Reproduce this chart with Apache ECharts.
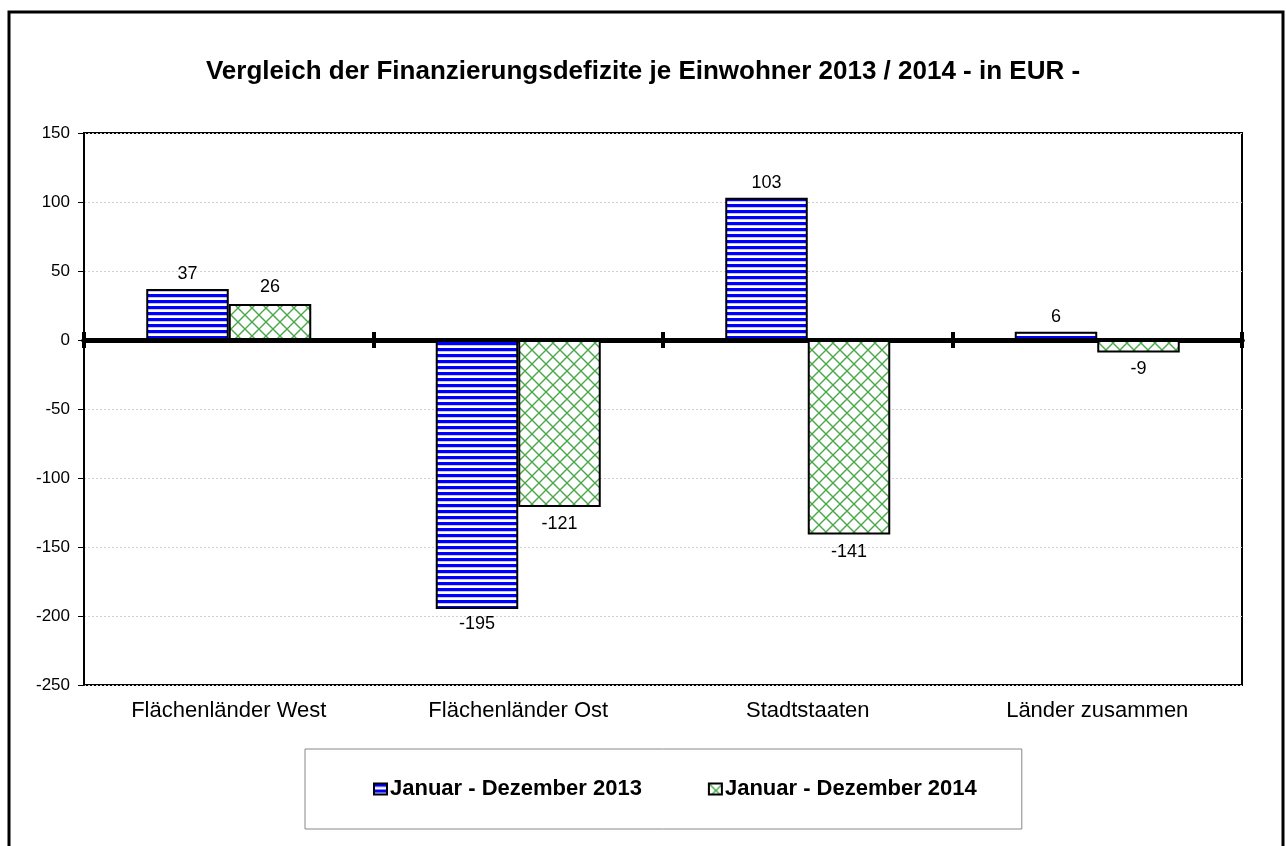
<!DOCTYPE html>
<html>
<head>
<meta charset="utf-8">
<script src="https://cdn.jsdelivr.net/npm/echarts@6/dist/echarts.min.js"></script>
<style>
  html, body { margin: 0; padding: 0; background: #fff; }
  #main { width: 1286px; height: 846px; }
</style>
</head>
<body>
<div id="main"></div>
<script>
var categories = ['Flächenländer West', 'Flächenländer Ost', 'Stadtstaaten', 'Länder zusammen'];
var values2013 = [37, -195, 103, 6];
var values2014 = [26, -121, -141, -9];
var seriesNames = ['Januar - Dezember 2013', 'Januar - Dezember 2014'];
var yTicks = { min: -250, max: 150, interval: 50 };

// fill patterns (Excel style)
function stripePattern() {
    var c = document.createElement('canvas');
    c.width = 8; c.height = 6;
    var g = c.getContext('2d');
    g.fillStyle = '#fff'; g.fillRect(0, 0, 8, 6);
    g.fillStyle = '#0000ff'; g.fillRect(0, 0, 8, 3);
    g.fillStyle = '#c4c4ff'; g.fillRect(0, 3, 8, 1);
    return c;
}
function hatchPattern() {
    var s = 14;
    var c = document.createElement('canvas');
    c.width = s; c.height = s;
    var g = c.getContext('2d');
    g.fillStyle = '#fff'; g.fillRect(0, 0, s, s);
    g.strokeStyle = '#48a848'; g.lineWidth = 1.4;
    g.beginPath();
    g.moveTo(0, 0); g.lineTo(s, s);
    g.moveTo(s, 0); g.lineTo(0, s);
    g.stroke();
    return c;
}

function toData(arr) {
    return arr.map(function (v) {
        return { value: v, label: { position: v < 0 ? 'bottom' : 'top' } };
    });
}

var myChart = echarts.init(document.getElementById('main'));
var font = 'Liberation Sans, Arial, sans-serif';

var option = {
    backgroundColor: '#fff',
    textStyle: { fontFamily: font },
    animation: false,
    title: {
        text: 'Vergleich der Finanzierungsdefizite je Einwohner 2013 / 2014 - in EUR -',
        left: 'center',
        top: 54,
        textStyle: { fontSize: 26, fontWeight: 'bold', color: '#000', fontFamily: font }
    },
    graphic: [{
        type: 'rect',
        shape: { x: 9, y: 12, width: 1274, height: 850 },
        style: { fill: null, stroke: '#000', lineWidth: 3 },
        z: 100
    }],
    legend: {
        top: 749,
        left: 305,
        padding: [29, 45, 29, 68],
        borderColor: '#888',
        borderWidth: 1,
        itemGap: 66,
        itemWidth: 13,
        itemHeight: 11,
        icon: 'rect',
        textStyle: { fontSize: 22, fontWeight: 'bold', color: '#000', fontFamily: font, padding: [0, 0, 0, -2] },
        data: seriesNames
    },
    grid: {
        left: 84, right: 44, top: 133, bottom: 161,
        show: true,
        borderColor: '#000',
        borderWidth: 2
    },
    xAxis: [{
        type: 'category',
        data: categories,
        position: 'bottom',
        axisLine: { show: false, onZero: false },
        axisTick: { show: false },
        axisLabel: { fontSize: 22, color: '#000', margin: 15, fontFamily: font }
    }, {
        type: 'category',
        data: categories,
        position: 'bottom',
        axisLine: { show: true, onZero: true, onZeroAxisIndex: 0, lineStyle: { color: '#000', width: 5 } },
        axisTick: { show: true, length: 8, lineStyle: { color: '#000', width: 4 } },
        axisLabel: { show: false }
    }, {
        type: 'category',
        data: categories,
        position: 'bottom',
        axisLine: { show: true, onZero: true, onZeroAxisIndex: 1, lineStyle: { color: '#000', width: 5 } },
        axisTick: { show: true, inside: true, length: 8, lineStyle: { color: '#000', width: 4 } },
        axisLabel: { show: false }
    }],
    yAxis: [{
        type: 'value',
        min: yTicks.min,
        max: yTicks.max,
        interval: yTicks.interval,
        axisLine: { show: true, lineStyle: { color: '#000', width: 2 } },
        axisTick: { show: true, length: 6, lineStyle: { color: '#000' } },
        axisLabel: { fontSize: 17, color: '#000', margin: 14, fontFamily: font },
        splitLine: { show: true, lineStyle: { color: '#d0d0d0', type: [2, 2], width: 1 } }
    }, {
        type: 'value',
        min: yTicks.min,
        max: yTicks.max,
        interval: yTicks.interval,
        position: 'left',
        axisLine: { show: false },
        axisTick: { show: false },
        axisLabel: { show: false },
        splitLine: { show: false }
    }],
    series: [{
        name: seriesNames[0],
        type: 'bar',
        xAxisIndex: 0,
        yAxisIndex: 0,
        data: toData(values2013),
        barGap: '0%',
        barCategoryGap: '43%',
        itemStyle: { color: { image: stripePattern(), repeat: 'repeat' }, borderColor: '#000', borderWidth: 2 },
        label: { show: true, distance: 6, fontSize: 18, color: '#000', fontFamily: font }
    }, {
        name: seriesNames[1],
        type: 'bar',
        xAxisIndex: 0,
        yAxisIndex: 0,
        data: toData(values2014),
        itemStyle: { color: { image: hatchPattern(), repeat: 'repeat' }, borderColor: '#000', borderWidth: 2 },
        label: { show: true, distance: 8, fontSize: 18, color: '#000', fontFamily: font }
    }]
};

myChart.setOption(option);
</script>
</body>
</html>
